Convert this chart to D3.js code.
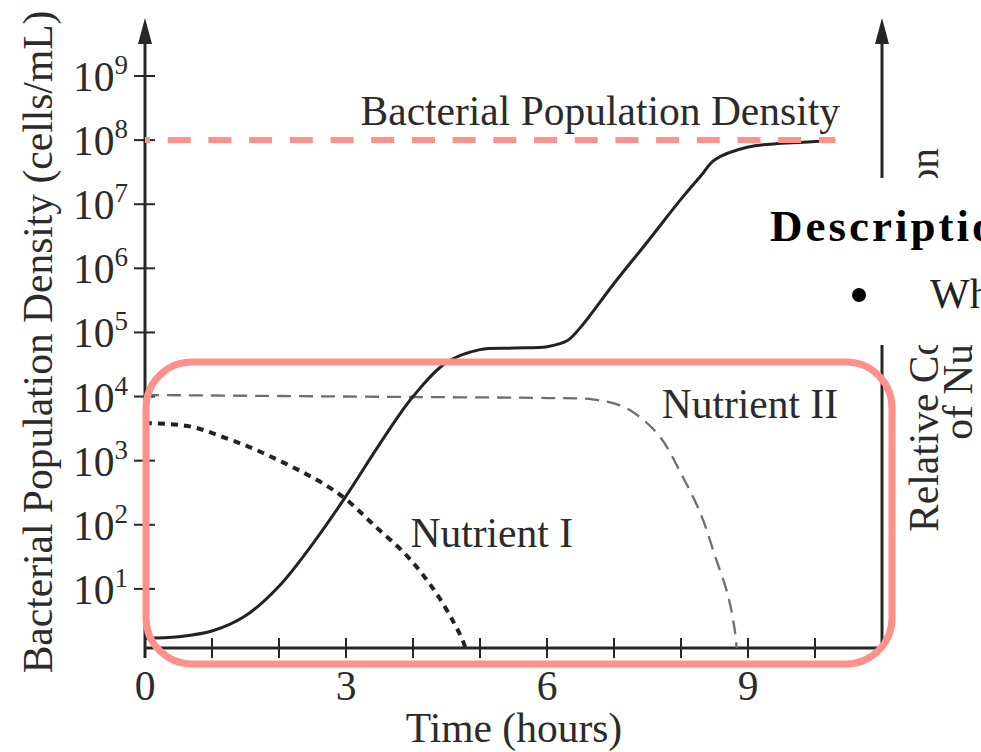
<!DOCTYPE html>
<html>
<head>
<meta charset="utf-8">
<script src="https://cdn.jsdelivr.net/npm/d3@7"></script>
<style>
  html, body { margin: 0; padding: 0; background: #fff; }
  svg { display: block; }
  text { font-family: "Liberation Serif", "Times New Roman", serif; fill: #2b2b2b; }
</style>
</head>
<body>
<svg id="chart" width="981" height="752"></svg>
<script>
// ---------------- data ----------------
const timeTicks = [0, 1, 2, 3, 4, 5, 6, 7, 8, 9, 10];
const timeLabels = [0, 3, 6, 9];
const densityExponents = [1, 2, 3, 4, 5, 6, 7, 8, 9];

const bacteriaTime = [0, 0.5, 1, 1.5, 2, 2.5, 3, 3.5, 4, 4.5, 5, 5.5, 6, 6.3, 6.5, 7, 7.5, 8, 8.3, 8.5, 9, 9.5, 10, 10.3];
const bacteriaDensity = [1.7, 1.8, 2.2, 3.8, 11, 50, 280, 1800, 1.0e4, 3.4e4, 5.4e4, 5.7e4, 6.0e4, 7.4e4, 1.2e5,
                         5.8e5, 2.6e6, 1.2e7, 2.8e7, 4.9e7, 7.8e7, 8.9e7, 9.5e7, 9.8e7];

const nutrient1Time = [0, 0.67, 1.16, 1.57, 1.97, 2.36, 2.72, 3.0, 3.4, 3.91, 4.3, 4.6, 4.75, 4.78];
const nutrient1Conc = [0.889, 0.876, 0.834, 0.793, 0.745, 0.694, 0.640, 0.588, 0.490, 0.364, 0.235, 0.105, 0.025, 0];

const nutrient2Time = [0, 2, 4, 6, 6.7, 7.1, 7.4, 7.7, 8.0, 8.3, 8.5, 8.7, 8.8, 8.83];
const nutrient2Conc = [1.0, 0.996, 0.992, 0.988, 0.982, 0.958, 0.910, 0.830, 0.690, 0.526, 0.370, 0.209, 0.075, 0];

const maxDensity = 1e8;

// ---------------- layout ----------------
const svg = d3.select("#chart");
const axisColor = "#262626";
const pink = "#fe918c";
const FS = 41.5;

const x = d3.scaleLinear().domain([0, 10]).range([145, 815]);
const y = d3.scaleLog().domain([1, 1e9]).range([653, 76]);
const yR = d3.scaleLinear().domain([0, 1]).range([648, 395]);
const axisY = 648, leftX = x(0), rightX = 882, topY = 18;

// ---------------- axes ----------------
const g = svg.append("g");

g.append("line").attr("x1", leftX).attr("x2", leftX).attr("y1", 658).attr("y2", topY + 20)
  .attr("stroke", axisColor).attr("stroke-width", 3);
g.append("path").attr("d", `M${leftX},${topY} L${leftX - 7},${topY + 26} L${leftX + 7},${topY + 26} Z`).attr("fill", axisColor);

g.append("line").attr("x1", rightX).attr("x2", rightX).attr("y1", axisY + 1.5).attr("y2", topY + 20)
  .attr("stroke", axisColor).attr("stroke-width", 3);
g.append("path").attr("d", `M${rightX},${topY} L${rightX - 7},${topY + 26} L${rightX + 7},${topY + 26} Z`).attr("fill", axisColor);

g.append("line").attr("x1", leftX).attr("x2", rightX).attr("y1", axisY).attr("y2", axisY)
  .attr("stroke", axisColor).attr("stroke-width", 3);

g.selectAll(".xt").data(timeTicks).join("line")
  .attr("x1", d => x(d)).attr("x2", d => x(d)).attr("y1", axisY - 10).attr("y2", axisY + 10)
  .attr("stroke", axisColor).attr("stroke-width", 2);
g.selectAll(".xl").data(timeLabels).join("text")
  .attr("x", d => x(d)).attr("y", 700).attr("text-anchor", "middle")
  .attr("font-size", FS).text(d => d);

g.selectAll(".yt").data(densityExponents).join("line")
  .attr("x1", leftX - 11).attr("x2", leftX + 10).attr("y1", d => y(Math.pow(10, d))).attr("y2", d => y(Math.pow(10, d)))
  .attr("stroke", axisColor).attr("stroke-width", 2);
const yl = g.selectAll(".yl").data(densityExponents).join("text")
  .attr("x", 128).attr("y", d => y(Math.pow(10, d)) + 15).attr("text-anchor", "end").attr("font-size", FS);
yl.append("tspan").text("10");
yl.append("tspan").attr("dy", -17).attr("font-size", 27).text(d => d);

g.append("text").attr("transform", `translate(52,342) rotate(-90)`).attr("text-anchor", "middle")
  .attr("font-size", FS).text("Bacterial Population Density (cells/mL)");
g.append("text").attr("x", 514).attr("y", 742).attr("text-anchor", "middle")
  .attr("font-size", FS).text("Time (hours)");
g.append("text").attr("transform", `translate(938,340) rotate(-90)`).attr("text-anchor", "middle")
  .attr("font-size", FS).text("Relative Concentration");
g.append("text").attr("transform", `translate(972,340) rotate(-90)`).attr("text-anchor", "middle")
  .attr("font-size", FS).text("of Nutrients");

// ---------------- series ----------------
const bacteria = bacteriaTime.map((t, i) => [t, bacteriaDensity[i]]);
const n1 = nutrient1Time.map((t, i) => [t, nutrient1Conc[i]]);
const n2 = nutrient2Time.map((t, i) => [t, nutrient2Conc[i]]);

const lineB = d3.line().x(d => x(d[0])).y(d => y(d[1])).curve(d3.curveCatmullRom.alpha(0.5));
const lineN = d3.line().x(d => x(d[0])).y(d => yR(d[1])).curve(d3.curveCatmullRom.alpha(0.5));

g.append("path").attr("d", lineN(n2)).attr("fill", "none").attr("stroke", "#6e6e6e")
  .attr("stroke-width", 2.3).attr("stroke-dasharray", "14 8");
g.append("path").attr("d", lineN(n1)).attr("fill", "none").attr("stroke", "#222")
  .attr("stroke-width", 4).attr("stroke-dasharray", "7 6");
g.append("path").attr("d", lineB(bacteria)).attr("fill", "none").attr("stroke", "#222")
  .attr("stroke-width", 3);

g.append("line").attr("x1", leftX).attr("x2", x(10.3)).attr("y1", y(maxDensity)).attr("y2", y(maxDensity))
  .attr("stroke", pink).attr("stroke-width", 6).attr("stroke-dasharray", "23 17.7").attr("stroke-dashoffset", 18);

g.append("text").attr("x", 840).attr("y", 125).attr("text-anchor", "end").attr("font-size", FS)
  .text("Bacterial Population Density");
g.append("text").attr("x", 838).attr("y", 418).attr("text-anchor", "end").attr("font-size", FS)
  .text("Nutrient II");
g.append("text").attr("x", 573).attr("y", 547).attr("text-anchor", "end").attr("font-size", FS)
  .text("Nutrient I");

// ---------------- overlays ----------------
g.append("rect").attr("x", 146).attr("y", 362).attr("width", 746).attr("height", 302)
  .attr("rx", 46).attr("ry", 46).attr("fill", "none").attr("stroke", pink).attr("stroke-width", 7);

const box = svg.append("g");
box.append("rect").attr("x", 745).attr("y", 178).attr("width", 236).attr("height", 167).attr("fill", "#fff");
box.append("text").attr("x", 770).attr("y", 241).attr("font-family", "DejaVu Serif").attr("font-weight", "bold")
  .attr("font-size", 45).attr("letter-spacing", 3).style("fill", "#000").text("Description");
box.append("circle").attr("cx", 859).attr("cy", 295).attr("r", 7).attr("fill", "#000");
box.append("text").attr("x", 930).attr("y", 308).attr("font-family", "DejaVu Serif")
  .attr("font-size", 42).style("fill", "#222").text("What");
</script>
</body>
</html>
